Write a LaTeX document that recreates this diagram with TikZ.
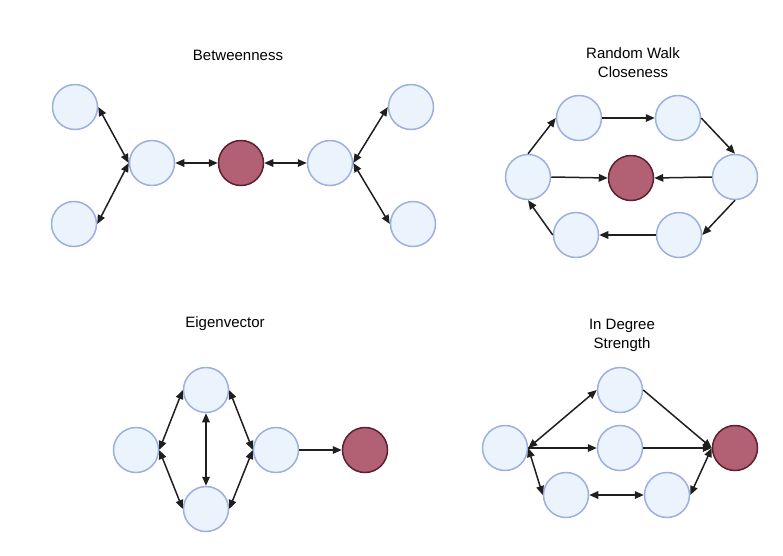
\documentclass[tikz,border=0pt]{standalone}
\usepackage{fontspec}
\setmainfont{Liberation Sans}
\usetikzlibrary{arrows.meta,positioning}
\definecolor{NodeBlue}{HTML}{EBF3FC}
\definecolor{EdgeBlue}{HTML}{9CB0DD}
\definecolor{HubRed}{HTML}{B16173}
\definecolor{HubLine}{HTML}{5E2031}
\definecolor{LinkGray}{HTML}{1F1F1F}
\tikzset{
	plain/.style={
		circle,draw=EdgeBlue,fill=NodeBlue,line width=1.5pt,
		minimum size=45pt,inner sep=0pt},
	hub/.style={
		circle,draw=HubLine,fill=HubRed,line width=1.5pt,
		minimum size=45pt,inner sep=0pt},
	link/.style={
		draw=LinkGray,line width=1.5pt,-{Triangle[length=9pt,width=7.5pt]}},
	both/.style={
		link,{Triangle[length=9pt,width=7.5pt]}-{Triangle[length=9pt,width=7.5pt]}},
	heading/.style={
		font=\fontsize{15}{19}\selectfont,align=center,inner sep=0pt}
}

\begin{document}
\begin{tikzpicture}[x=1pt,y=-1pt]
	\useasboundingbox (0,0) rectangle (783,555);
	% Betweenness
	\node[heading] (tBet) at (238,55) {Betweenness};
	\node[plain] (b1) at (75,107) {};
	\node[plain] (b2) at (74,224) {};
	\node[plain] (b3) at (152,163) {};
	\node[hub] (b4) at (241,163) {};
	\node[plain] (b5) at (330,163) {};
	\node[plain] (b6) at (411,107) {};
	\node[plain] (b7) at (413,224) {};
	\draw[both] (b1.east) -- (b3.west);
	\draw[both] (b2.east) -- (b3.west);
	\draw[both] (b3.east) -- (b4.west);
	\draw[both] (b4.east) -- (b5.west);
	\draw[both] (b5.east) -- (b6.west);
	\draw[both] (b5.east) -- (b7.west);
	% Random walk closeness
	\node[heading] (tRW) at (633,63) {Random Walk\\Closeness};
	\node[plain] (r1) at (528,177) {};
	\node[plain] (r2) at (579,118) {};
	\node[plain] (r3) at (678,118) {};
	\node[plain] (r4) at (735,177) {};
	\node[plain] (r5) at (679,235) {};
	\node[plain] (r6) at (576,235) {};
	\node[hub] (r7) at (631,178) {};
	\draw[link] (r1.north) -- (r2.west);
	\draw[link] (r2.east) -- (r3.west);
	\draw[link] (r3.east) -- (r4.north);
	\draw[link] (r4.south) -- (r5.east);
	\draw[link] (r5.west) -- (r6.east);
	\draw[link] (r6.west) -- (r1.south);
	\draw[link] (r1.east) -- (r7.west);
	\draw[link] (r4.west) -- (r7.east);
	% Eigenvector
	\node[heading] (tEig) at (225,324) {Eigenvector};
	\node[plain] (e1) at (136,450) {};
	\node[plain] (e2) at (206,390) {};
	\node[plain] (e3) at (206,509) {};
	\node[plain] (e4) at (276,450) {};
	\node[hub] (e5) at (365,450) {};
	\draw[both] (e1.east) -- (e2.west);
	\draw[both] (e1.east) -- (e3.west);
	\draw[both] (e2.south) -- (e3.north);
	\draw[both] (e2.east) -- (e4.west);
	\draw[both] (e3.east) -- (e4.west);
	\draw[link] (e4.east) -- (e5.west);
	% In degree strength
	\node[heading] (tDeg) at (622,335) {In Degree\\Strength};
	\node[plain] (d1) at (505,448) {};
	\node[plain] (d2) at (620,390) {};
	\node[plain] (d3) at (620,448) {};
	\node[plain] (d4) at (566,495) {};
	\node[plain] (d5) at (667,495) {};
	\node[hub] (d6) at (735,448) {};
	\draw[both] (d1.east) -- (d2.west);
	\draw[link] (d1.east) -- (d3.west);
	\draw[both] (d1.east) -- (d4.west);
	\draw[both] (d4.east) -- (d5.west);
	\draw[both] (d5.east) -- (d6.west);
	\draw[link] (d2.east) -- (d6.west);
	\draw[link] (d3.east) -- (d6.west);
\end{tikzpicture}
\end{document}
